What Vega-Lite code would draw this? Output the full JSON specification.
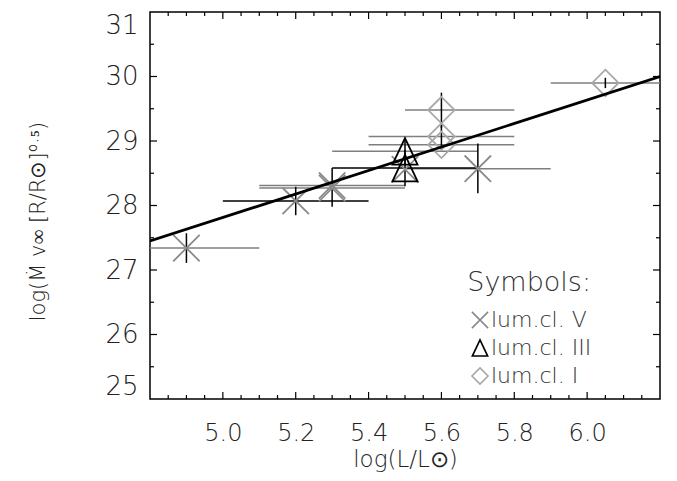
{
  "$schema": "https://vega.github.io/schema/vega-lite/v6.json",
  "width": 510,
  "height": 387,
  "autosize": {"type": "none"},
  "padding": {"left": 150, "top": 12, "right": 17, "bottom": 82},
  "background": "white",
  "config": {
    "font": "DejaVu Sans",
    "view": {"stroke": "black", "strokeWidth": 1.5}
  },
  "datasets": {
    "stars": [
      {"cls": "V", "logL": 4.9, "q": 27.34, "xlo": 4.7, "xhi": 5.1, "ylo": 27.11, "yhi": 27.57, "ref": "g"},
      {"cls": "V", "logL": 5.2, "q": 28.07, "xlo": 5.0, "xhi": 5.4, "ylo": 27.85, "yhi": 28.29, "ref": "k"},
      {"cls": "V", "logL": 5.3, "q": 28.31, "xlo": 5.1, "xhi": 5.5, "ylo": null, "yhi": null, "ref": "g"},
      {"cls": "V", "logL": 5.3, "q": 28.27, "xlo": 5.1, "xhi": 5.5, "ylo": 27.98, "yhi": 28.58, "ref": "g"},
      {"cls": "V", "logL": 5.5, "q": 28.56, "xlo": null, "xhi": null, "ylo": null, "yhi": null, "ref": "g"},
      {"cls": "V", "logL": 5.7, "q": 28.57, "xlo": 5.5, "xhi": 5.9, "ylo": 28.19, "yhi": 28.96, "ref": "g"},
      {"cls": "III", "logL": 5.5, "q": 28.84, "xlo": 5.3, "xhi": 5.7, "ylo": 28.62, "yhi": 29.05, "ref": "g"},
      {"cls": "III", "logL": 5.5, "q": 28.58, "xlo": 5.3, "xhi": 5.7, "ylo": 28.3, "yhi": 28.86, "ref": "k"},
      {"cls": "I", "logL": 5.6, "q": 29.48, "xlo": 5.5, "xhi": 5.8, "ylo": 29.2, "yhi": 29.75, "ref": "g"},
      {"cls": "I", "logL": 5.6, "q": 29.07, "xlo": 5.4, "xhi": 5.8, "ylo": 28.86, "yhi": 29.25, "ref": "g"},
      {"cls": "I", "logL": 5.6, "q": 28.94, "xlo": 5.4, "xhi": 5.8, "ylo": null, "yhi": null, "ref": "g"},
      {"cls": "I", "logL": 6.05, "q": 29.9, "xlo": 5.9, "xhi": 6.2, "ylo": 29.82, "yhi": 29.98, "ref": "g"}
    ],
    "fit": [
      {"logL": 4.8, "q": 27.45},
      {"logL": 6.2, "q": 30.0}
    ],
    "xticks": [
      {"v": 4.85, "k": "minor"}, {"v": 4.9, "k": "minor"}, {"v": 4.95, "k": "minor"},
      {"v": 5.0, "k": "major"}, {"v": 5.05, "k": "minor"}, {"v": 5.1, "k": "minor"}, {"v": 5.15, "k": "minor"},
      {"v": 5.2, "k": "major"}, {"v": 5.25, "k": "minor"}, {"v": 5.3, "k": "minor"}, {"v": 5.35, "k": "minor"},
      {"v": 5.4, "k": "major"}, {"v": 5.45, "k": "minor"}, {"v": 5.5, "k": "minor"}, {"v": 5.55, "k": "minor"},
      {"v": 5.6, "k": "major"}, {"v": 5.65, "k": "minor"}, {"v": 5.7, "k": "minor"}, {"v": 5.75, "k": "minor"},
      {"v": 5.8, "k": "major"}, {"v": 5.85, "k": "minor"}, {"v": 5.9, "k": "minor"}, {"v": 5.95, "k": "minor"},
      {"v": 6.0, "k": "major"}, {"v": 6.05, "k": "minor"}, {"v": 6.1, "k": "minor"}, {"v": 6.15, "k": "minor"}
    ],
    "yticks": [
      {"v": 25.5, "k": "minor"}, {"v": 26, "k": "major"}, {"v": 26.5, "k": "minor"},
      {"v": 27, "k": "major"}, {"v": 27.5, "k": "minor"}, {"v": 28, "k": "major"},
      {"v": 28.5, "k": "minor"}, {"v": 29, "k": "major"}, {"v": 29.5, "k": "minor"},
      {"v": 30, "k": "major"}, {"v": 30.5, "k": "minor"}
    ]
  },
  "layer": [
    {
      "data": {"name": "stars"},
      "transform": [{"filter": "datum.xlo != null"}],
      "mark": {"type": "rule", "clip": true, "strokeWidth": 1.5},
      "encoding": {
        "x": {
          "field": "xlo", "type": "quantitative",
          "scale": {"domain": [4.8, 6.2], "nice": false, "zero": false},
          "axis": {
            "orient": "bottom",
            "values": [5.0, 5.2, 5.4, 5.6, 5.8, 6.0],
            "format": ".1f",
            "domain": false,
            "ticks": false,
            "grid": false,
            "labelFont": "DejaVu Sans",
            "labelFontWeight": 200,
            "labelColor": "#222222",
            "labelFontSize": 24,
            "labelPadding": 22,
            "labelFlush": false,
            "title": "log(L/L⊙)",
            "titleFont": "DejaVu Sans",
            "titleFontWeight": 200,
            "titleColor": "#222222",
            "titleFontSize": 23,
            "titleX": 255,
            "titleY": 60,
            "titleAlign": "center",
            "titleBaseline": "middle"
          }
        },
        "x2": {"field": "xhi"},
        "y": {
          "field": "q", "type": "quantitative",
          "scale": {"domain": [25, 31], "nice": false, "zero": false},
          "axis": {
            "orient": "left",
            "values": [25, 26, 27, 28, 29, 30, 31],
            "domain": false,
            "ticks": false,
            "grid": false,
            "labelFont": "DejaVu Sans",
            "labelFontWeight": 200,
            "labelColor": "#222222",
            "labelFontSize": 26,
            "labelPadding": 12,
            "labelFlush": true,
            "title": "log(Ṁ v∞ [R/R⊙]⁰·⁵)",
            "titleFont": "DejaVu Sans",
            "titleFontWeight": 200,
            "titleColor": "#222222",
            "titleFontSize": 21,
            "titleX": -112,
            "titleY": 209,
            "titleAngle": -90,
            "titleAlign": "center",
            "titleBaseline": "middle"
          }
        },
        "color": {
          "field": "ref", "type": "nominal",
          "scale": {"domain": ["g", "k"], "range": ["#7f7f7f", "#000000"]},
          "legend": null
        }
      }
    },
    {
      "data": {"name": "stars"},
      "transform": [{"filter": "datum.ylo != null"}],
      "mark": {"type": "rule", "clip": true, "strokeWidth": 1.5, "color": "black"},
      "encoding": {
        "x": {"field": "logL", "type": "quantitative", "axis": null},
        "y": {"field": "ylo", "type": "quantitative", "axis": null},
        "y2": {"field": "yhi"}
      }
    },
    {
      "data": {"name": "stars"},
      "mark": {"type": "point", "filled": false, "size": 700, "strokeWidth": 1.8, "opacity": 1},
      "encoding": {
        "x": {"field": "logL", "type": "quantitative", "axis": null},
        "y": {"field": "q", "type": "quantitative", "axis": null},
        "shape": {
          "field": "cls", "type": "nominal",
          "scale": {
            "domain": ["V", "III", "I"],
            "range": ["M-1,-1L1,1M-1,1L1,-1", "M0,-1L0.95,1L-0.95,1Z", "M0,-1L1,0L0,1L-1,0Z"]
          },
          "legend": {
            "title": "Symbols:",
            "orient": "none",
            "legendX": 317,
            "legendY": 258,
            "padding": 0,
            "titleFont": "DejaVu Sans",
            "titleFontSize": 27,
            "titleFontWeight": 200,
            "titleColor": "#333333",
            "titleAnchor": "end",
            "titlePadding": 12,
            "labelFont": "DejaVu Sans",
            "labelFontSize": 22,
            "labelFontWeight": 200,
            "labelColor": "#333333",
            "labelOffset": 0,
            "rowPadding": 4,
            "symbolSize": 260,
            "symbolStrokeWidth": 1.6,
            "symbolFillColor": "transparent",
            "labelExpr": "'lum.cl. ' + datum.label"
          }
        },
        "stroke": {
          "field": "cls", "type": "nominal",
          "scale": {"domain": ["V", "III", "I"], "range": ["#8a8a8a", "#000000", "#a8a8a8"]},
          "legend": {
            "title": "Symbols:",
            "orient": "none",
            "legendX": 317,
            "legendY": 258,
            "padding": 0,
            "titleFont": "DejaVu Sans",
            "titleFontSize": 27,
            "titleFontWeight": 200,
            "titleColor": "#333333",
            "titleAnchor": "end",
            "titlePadding": 12,
            "labelFont": "DejaVu Sans",
            "labelFontSize": 22,
            "labelFontWeight": 200,
            "labelColor": "#333333",
            "labelOffset": 0,
            "rowPadding": 4,
            "symbolSize": 260,
            "symbolStrokeWidth": 1.6,
            "symbolFillColor": "transparent",
            "labelExpr": "'lum.cl. ' + datum.label"
          }
        }
      }
    },
    {
      "data": {"name": "fit"},
      "mark": {"type": "line", "color": "black", "strokeWidth": 2.8, "clip": true},
      "encoding": {
        "x": {"field": "logL", "type": "quantitative", "axis": null},
        "y": {"field": "q", "type": "quantitative", "axis": null}
      }
    },
    {
      "data": {"name": "xticks"},
      "mark": {"type": "tick", "orient": "vertical", "clip": true, "color": "black", "thickness": 1.2, "opacity": 1},
      "encoding": {
        "x": {"field": "v", "type": "quantitative", "axis": null},
        "y": {"datum": 25, "type": "quantitative", "axis": null},
        "size": {"field": "k", "type": "ordinal", "scale": {"domain": ["major", "minor"], "range": [14, 8]}, "legend": null}
      }
    },
    {
      "data": {"name": "xticks"},
      "mark": {"type": "tick", "orient": "vertical", "clip": true, "color": "black", "thickness": 1.2, "opacity": 1},
      "encoding": {
        "x": {"field": "v", "type": "quantitative", "axis": null},
        "y": {"datum": 31, "type": "quantitative", "axis": null},
        "size": {"field": "k", "type": "ordinal", "legend": null}
      }
    },
    {
      "data": {"name": "yticks"},
      "mark": {"type": "tick", "orient": "horizontal", "clip": true, "color": "black", "thickness": 1.2, "opacity": 1},
      "encoding": {
        "y": {"field": "v", "type": "quantitative", "axis": null},
        "x": {"datum": 4.8, "type": "quantitative", "axis": null},
        "size": {"field": "k", "type": "ordinal", "legend": null}
      }
    },
    {
      "data": {"name": "yticks"},
      "mark": {"type": "tick", "orient": "horizontal", "clip": true, "color": "black", "thickness": 1.2, "opacity": 1},
      "encoding": {
        "y": {"field": "v", "type": "quantitative", "axis": null},
        "x": {"datum": 6.2, "type": "quantitative", "axis": null},
        "size": {"field": "k", "type": "ordinal", "legend": null}
      }
    }
  ],
  "resolve": {"axis": {"x": "independent", "y": "independent"}}
}
